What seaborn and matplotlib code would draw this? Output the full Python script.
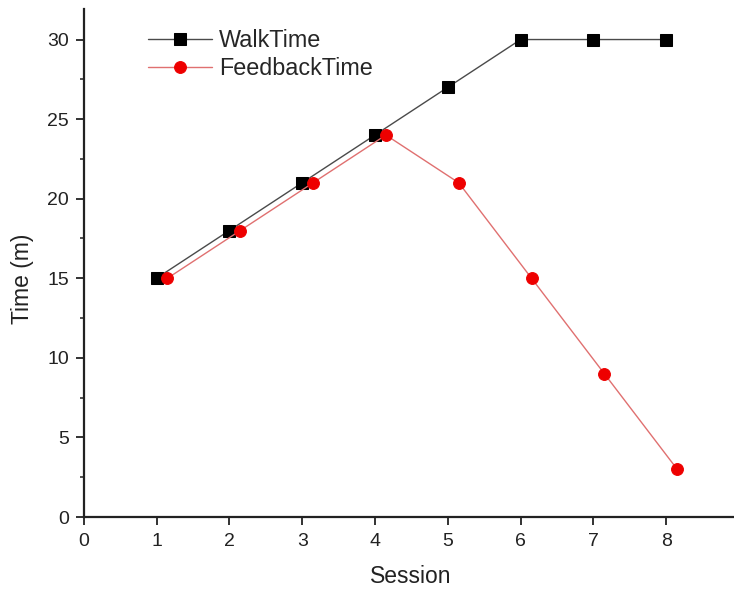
import matplotlib
matplotlib.use("Agg")
import matplotlib.pyplot as plt
import seaborn as sns
import pandas as pd
from matplotlib.ticker import MultipleLocator

sessions = [1, 2, 3, 4, 5, 6, 7, 8]
feedback_sessions = [1.15, 2.15, 3.15, 4.15, 5.15, 6.15, 7.15, 8.15]
walk_time = [15, 18, 21, 24, 27, 30, 30, 30]
feedback_time = [15, 18, 21, 24, 21, 15, 9, 3]

sns.set_style("ticks")
plt.rcParams['font.family'] = ['Liberation Sans', 'DejaVu Sans']

W, H = 734, 593
fig = plt.figure(figsize=(W / 100, H / 100), dpi=100)
left_px, bottom_px, top_px = 83.7, 517, 9.3
ax = fig.add_axes([left_px / W, 1 - bottom_px / H, 1 - left_px / W, (bottom_px - top_px) / H])

walk_df = pd.DataFrame({"Session": sessions, "Time": walk_time})
fb_df = pd.DataFrame({"Session": feedback_sessions, "Time": feedback_time})

sns.lineplot(data=walk_df, x="Session", y="Time", ax=ax, color="#4a4a4a", lw=1.0,
             marker="s", markersize=8, markerfacecolor="black", markeredgecolor="black",
             label="WalkTime")
sns.lineplot(data=fb_df, x="Session", y="Time", ax=ax, color="#e07070", lw=1.0,
             marker="o", markersize=8.5, markerfacecolor="#ee0000", markeredgecolor="#ee0000",
             label="FeedbackTime")

ax.set_xlim(0, 8.93)
ax.set_ylim(0, 31.9)
ax.xaxis.set_major_locator(MultipleLocator(1))
ax.yaxis.set_major_locator(MultipleLocator(5))
ax.yaxis.set_minor_locator(MultipleLocator(2.5))
ax.tick_params(axis="both", which="major", direction="out", length=6, width=1.3,
               labelsize=14, color="#222222", labelcolor="#222222")
ax.tick_params(axis="x", which="major", pad=5.5)
ax.tick_params(axis="y", which="major", pad=4.5)
ax.tick_params(axis="y", which="minor", direction="out", length=3, width=1.1, color="#222222")
for s in ["top", "right"]:
    ax.spines[s].set_visible(False)
for s in ["left", "bottom"]:
    ax.spines[s].set_linewidth(1.6)
    ax.spines[s].set_color("#222222")

ax.set_xlabel("Session", fontsize=16.5, color="#222222")
ax.set_ylabel("Time (m)", fontsize=16.5, color="#222222")
axw = W - left_px
axh = bottom_px - top_px
ax.xaxis.set_label_coords((410.7 - left_px) / axw, (bottom_px - 576.7) / axh)
ax.xaxis.label.set_va("center")
ax.yaxis.set_label_coords((22 - left_px) / axw, (bottom_px - 278.5) / axh)
ax.yaxis.label.set_va("center")

leg = ax.legend(loc="center left", bbox_to_anchor=((148 - left_px) / axw, (bottom_px - 54.5) / axh),
                frameon=False, fontsize=16.8, handlelength=2.75, handletextpad=0.3,
                labelspacing=0.24, borderpad=0, borderaxespad=0)

fig.savefig("out.png", dpi=100)
